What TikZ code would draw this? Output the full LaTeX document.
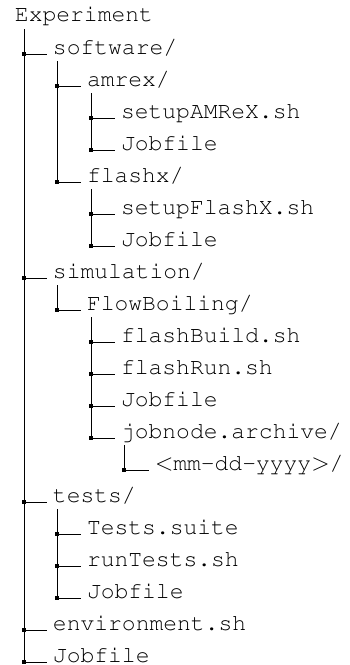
\documentclass[tikz,border=0pt]{standalone}
\usepackage{tikz}
\usetikzlibrary{positioning, calc}
\tikzset{%
	entry/.style={anchor=base west, inner sep=0pt, outer xsep=3pt,%
		font=\fontencoding{T1}\fontfamily{pcr}\fontsize{11.5}{14}\selectfont},
	junction/.style={draw=none, fill=black, rectangle, minimum size=2pt, inner sep=0pt},
	branch/.style={line width=0.5pt},
	trunk/.style={line width=0.5pt}
}

\begin{document}
\begin{tikzpicture}[x=0.5pt, y=-0.5pt]
	\useasboundingbox (0,0) rectangle (349,665);

	% root
	\node[entry, outer xsep=0pt] (root) at (15,21) {Experiment};

	% level 1
	\node[junction] (j-sw) at (24,54) {};
	\node[entry] (sw) at (47,54) {software/};
	\node[junction] (j-sim) at (24,278) {};
	\node[entry] (sim) at (47,278) {simulation/};
	\node[junction] (j-tests) at (24,502) {};
	\node[entry] (tests) at (47,502) {tests/};
	\node[junction] (j-env) at (24,630) {};
	\node[entry] (env) at (47,630) {environment.sh};
	\node[junction] (j-job) at (24,662) {};
	\node[entry] (job) at (47,662) {Jobfile};

	% software
	\node[junction] (j-amrex) at (57,86) {};
	\node[entry] (amrex) at (81,86) {amrex/};
	\node[junction] (j-setupamrex) at (91,118) {};
	\node[entry] (setupamrex) at (115,118) {setupAMReX.sh};
	\node[junction] (j-jobamrex) at (91,150) {};
	\node[entry] (jobamrex) at (115,150) {Jobfile};
	\node[junction] (j-flashx) at (57,182) {};
	\node[entry] (flashx) at (81,182) {flashx/};
	\node[junction] (j-setupflashx) at (91,214) {};
	\node[entry] (setupflashx) at (115,214) {setupFlashX.sh};
	\node[junction] (j-jobflashx) at (91,246) {};
	\node[entry] (jobflashx) at (115,246) {Jobfile};

	% simulation
	\node[junction] (j-flow) at (57,310) {};
	\node[entry] (flow) at (81,310) {FlowBoiling/};
	\node[junction] (j-build) at (91,342) {};
	\node[entry] (build) at (115,342) {flashBuild.sh};
	\node[junction] (j-run) at (91,374) {};
	\node[entry] (run) at (115,374) {flashRun.sh};
	\node[junction] (j-jobflow) at (91,406) {};
	\node[entry] (jobflow) at (115,406) {Jobfile};
	\node[junction] (j-archive) at (91,438) {};
	\node[entry] (archive) at (115,438) {jobnode.archive/};
	\node[junction] (j-date) at (124,470) {};
	\node[entry] (date) at (149,470) {$<$mm-dd-yyyy$>$/};

	% tests
	\node[junction] (j-suite) at (57,534) {};
	\node[entry] (suite) at (81,534) {Tests.suite};
	\node[junction] (j-runtests) at (57,566) {};
	\node[entry] (runtests) at (81,566) {runTests.sh};
	\node[junction] (j-jobtests) at (57,598) {};
	\node[entry] (jobtests) at (81,598) {Jobfile};

	% vertical lines
	\draw[trunk] ($(root.base -| j-sw)+(0,8)$) to (j-job.center);
	\draw[trunk] ($(sw.base -| j-amrex)+(0,7)$) to (j-flashx.center);
	\draw[trunk] ($(amrex.base -| j-setupamrex)+(0,7)$) to (j-jobamrex.center);
	\draw[trunk] ($(flashx.base -| j-setupflashx)+(0,7)$) to (j-jobflashx.center);
	\draw[trunk] ($(sim.base -| j-flow)+(0,7)$) to (j-flow.center);
	\draw[trunk] ($(flow.base -| j-build)+(0,7)$) to (j-archive.center);
	\draw[trunk] ($(archive.base -| j-date)+(0,7)$) to (j-date.center);
	\draw[trunk] ($(tests.base -| j-suite)+(0,7)$) to (j-jobtests.center);

	% horizontal branches
	\foreach \n in {sw, sim, tests, env, job, amrex, setupamrex, jobamrex,%
		flashx, setupflashx, jobflashx, flow, build, run, jobflow, archive,%
		date, suite, runtests, jobtests}
		\draw[branch] (j-\n.center) to (\n.base west);
\end{tikzpicture}
\end{document}
